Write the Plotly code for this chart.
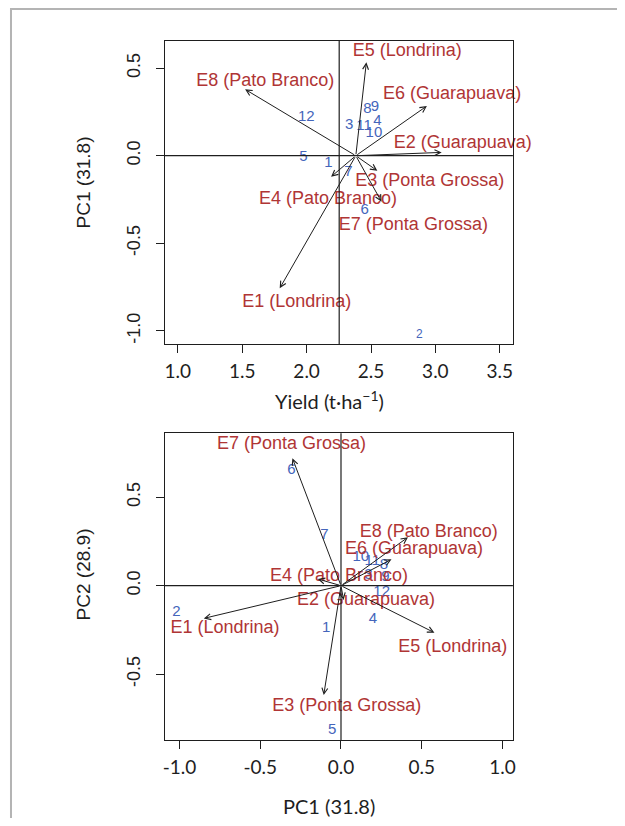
import plotly.graph_objects as go

# page is rendered with an 8px body margin; figure pixel = page pixel - 8
OFF = 8
W, H = 617, 810

env_names = ["E1 (Londrina)", "E2 (Guarapuava)", "E3 (Ponta Grossa)", "E4 (Pato Branco)",
             "E5 (Londrina)", "E6 (Guarapuava)", "E7 (Ponta Grossa)", "E8 (Pato Branco)"]
genotypes = ["1", "2", "3", "4", "5", "6", "7", "8", "9", "10", "11", "12"]

# ---- Top panel: Yield (x) vs PC1 (y)
yield_origin = 2.382          # arrows start here (on PC1 = 0)
yield_ref = 2.253             # vertical reference line
top_env_x = [1.791, 3.049, 2.549, 2.190, 2.464, 2.934, 2.582, 1.522]
top_env_y = [-0.757, 0.019, -0.086, -0.120, 0.533, 0.284, -0.263, 0.379]
top_lab_x = [1.924, 3.213, 2.956, 2.166, 2.781, 3.130, 2.829, 1.678]
top_lab_y = [-0.838, 0.071, -0.146, -0.250, 0.594, 0.352, -0.401, 0.422]
top_gen_x = [2.169, 2.875, 2.331, 2.549, 1.976, 2.451, 2.325, 2.472, 2.531, 2.523, 2.446, 1.997]
top_gen_y = [-0.043, -1.023, 0.175, 0.194, -0.009, -0.314, -0.097, 0.265, 0.276, 0.128, 0.166, 0.219]

# ---- Bottom panel: PC1 (x) vs PC2 (y)
bot_env_x = [-0.850, 0.016, -0.107, -0.144, 0.579, 0.313, -0.301, 0.415]
bot_env_y = [-0.185, -0.081, -0.619, 0.038, -0.266, 0.149, 0.721, 0.274]
bot_lab_x = [-0.719, 0.155, 0.036, -0.012, 0.693, 0.452, -0.307, 0.544]
bot_lab_y = [-0.244, -0.084, -0.685, 0.051, -0.351, 0.202, 0.801, 0.303]
bot_gen_x = [-0.092, -1.020, 0.170, 0.198, -0.055, -0.307, -0.103, 0.266, 0.276, 0.123, 0.194, 0.252]
bot_gen_y = [-0.241, -0.151, 0.061, -0.190, -0.817, 0.655, 0.287, 0.117, 0.046, 0.160, 0.136, -0.040]

top_x_ticks = [1.0, 1.5, 2.0, 2.5, 3.0, 3.5]
top_y_ticks = [-1.0, -0.5, 0.0, 0.5]
bot_x_ticks = [-1.0, -0.5, 0.0, 0.5, 1.0]
bot_y_ticks = [-0.5, 0.0, 0.5]

RED = "#b03535"
BLUE = "#4465bb"
INK = "#1e1e1e"
ARIAL = "Liberation Sans, Arial, sans-serif"
HUM = "Lato, Open Sans, sans-serif"

top_gen_sizes = [15, 12, 15, 15, 15, 15, 15, 15, 15, 15, 15, 15]


def px(x):
    return (x - OFF) / W


def py(y):
    return 1 - (y - OFF) / H


fig = go.Figure()

fig.add_trace(go.Scatter(x=top_gen_x, y=top_gen_y, mode="text", text=genotypes,
                         textfont=dict(family=ARIAL, size=top_gen_sizes, color=BLUE),
                         xaxis="x", yaxis="y", cliponaxis=False, hoverinfo="skip"))
fig.add_trace(go.Scatter(x=bot_gen_x, y=bot_gen_y, mode="text", text=genotypes,
                         textfont=dict(family=ARIAL, size=15, color=BLUE),
                         xaxis="x2", yaxis="y2", cliponaxis=False, hoverinfo="skip"))
fig.add_trace(go.Scatter(x=top_lab_x, y=top_lab_y, mode="text", text=env_names,
                         textfont=dict(family=ARIAL, size=18, color=RED),
                         xaxis="x", yaxis="y", cliponaxis=False, hoverinfo="skip"))
fig.add_trace(go.Scatter(x=bot_lab_x, y=bot_lab_y, mode="text", text=env_names,
                         textfont=dict(family=ARIAL, size=18, color=RED),
                         xaxis="x2", yaxis="y2", cliponaxis=False, hoverinfo="skip"))

annotations = []
for ex, ey in zip(top_env_x, top_env_y):
    annotations.append(dict(x=ex, y=ey, ax=yield_origin, ay=0.0, xref="x", yref="y",
                            axref="x", ayref="y", text="", showarrow=True,
                            arrowhead=5, arrowsize=1.15, arrowwidth=1, arrowcolor=INK))
for ex, ey in zip(bot_env_x, bot_env_y):
    annotations.append(dict(x=ex, y=ey, ax=0.0, ay=0.0, xref="x2", yref="y2",
                            axref="x2", ayref="y2", text="", showarrow=True,
                            arrowhead=5, arrowsize=1.15, arrowwidth=1, arrowcolor=INK))

annotations += [
    dict(text="Yield (t·ha<sup>−1</sup>)", x=px(330), y=py(400), xref="paper", yref="paper",
         showarrow=False, font=dict(family=HUM, size=20, color=INK), xanchor="center", yanchor="middle"),
    dict(text="PC1 (31.8)", x=px(330), y=py(806), xref="paper", yref="paper",
         showarrow=False, font=dict(family=HUM, size=20, color=INK), xanchor="center", yanchor="middle"),
    dict(text="PC1 (31.8)", x=px(83), y=py(182), xref="paper", yref="paper", textangle=-90,
         showarrow=False, font=dict(family=ARIAL, size=19, color=INK), xanchor="center", yanchor="middle"),
    dict(text="PC2 (28.9)", x=px(82), y=py(574), xref="paper", yref="paper", textangle=-90,
         showarrow=False, font=dict(family=ARIAL, size=19, color=INK), xanchor="center", yanchor="middle"),
]

shapes = [
    dict(type="line", xref="x", yref="y domain", x0=yield_ref, x1=yield_ref, y0=0, y1=1,
         line=dict(color=INK, width=1.2)),
    dict(type="line", xref="x domain", yref="y", x0=0, x1=1, y0=0, y1=0,
         line=dict(color=INK, width=1.2)),
    dict(type="line", xref="x2", yref="y2 domain", x0=0, x1=0, y0=0, y1=1,
         line=dict(color=INK, width=1.2)),
    dict(type="line", xref="x2 domain", yref="y2", x0=0, x1=1, y0=0, y1=0,
         line=dict(color=INK, width=1.2)),
    dict(type="path", xref="paper", yref="paper",
         path=f"M {px(9)},0 L {px(9)},{py(9)} L 1,{py(9)}",
         line=dict(color="#b4b4b4", width=2)),
]


def fmt(v):
    return f"{v:.1f}"


common_axis = dict(showline=True, mirror=True, linecolor=INK, linewidth=1.2, ticks="outside",
                   ticklen=8, tickwidth=1.2, tickcolor=INK, showgrid=False, zeroline=False)

xdom = [px(164), px(515)]
fig.update_layout(
    width=W, height=H, margin=dict(l=0, r=0, t=0, b=0),
    paper_bgcolor="white", plot_bgcolor="white", showlegend=False,
    xaxis=dict(domain=xdom, anchor="y", range=[0.898, 3.602], tickvals=top_x_ticks,
               ticktext=[fmt(v) for v in top_x_ticks], tickfont=dict(family=HUM, size=19, color=INK),
               ticklabelstandoff=2, **common_axis),
    yaxis=dict(domain=[py(344), py(41)], anchor="x", range=[-1.075, 0.655],
               tickvals=top_y_ticks, ticktext=[fmt(v) for v in top_y_ticks], tickangle=-90,
               tickfont=dict(family=ARIAL, size=18, color=INK), ticklabelstandoff=8, **common_axis),
    xaxis2=dict(domain=xdom, anchor="y2", range=[-1.092, 1.065], tickvals=bot_x_ticks,
                ticktext=[fmt(v) for v in bot_x_ticks], tickfont=dict(family=HUM, size=19, color=INK),
                ticklabelstandoff=2, **common_axis),
    yaxis2=dict(domain=[py(740), py(433.3)], anchor="x2", range=[-0.873, 0.862],
                tickvals=bot_y_ticks, ticktext=[fmt(v) for v in bot_y_ticks], tickangle=-90,
                tickfont=dict(family=ARIAL, size=18, color=INK), ticklabelstandoff=8, **common_axis),
    annotations=annotations, shapes=shapes,
)

fig.write_html("out.html")
